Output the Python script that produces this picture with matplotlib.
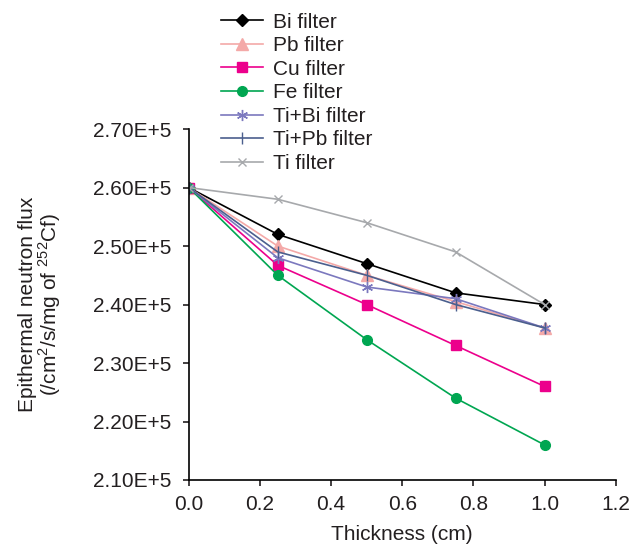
import matplotlib
matplotlib.use("Agg")
import matplotlib.pyplot as plt
from matplotlib.ticker import FuncFormatter

plt.rcParams['font.family'] = ['Liberation Sans', 'DejaVu Sans']
plt.rcParams['mathtext.fontset'] = 'custom'
plt.rcParams['mathtext.rm'] = 'Liberation Sans'

thickness = [0.0, 0.25, 0.5, 0.75, 1.0]
bi = [2.60e5, 2.52e5, 2.47e5, 2.42e5, 2.40e5]
pb = [2.60e5, 2.50e5, 2.45e5, 2.405e5, 2.36e5]
cu = [2.60e5, 2.467e5, 2.40e5, 2.33e5, 2.26e5]
fe = [2.60e5, 2.45e5, 2.34e5, 2.24e5, 2.16e5]
ti_bi = [2.60e5, 2.48e5, 2.43e5, 2.41e5, 2.36e5]
ti_pb = [2.60e5, 2.49e5, 2.45e5, 2.40e5, 2.36e5]
ti = [2.60e5, 2.58e5, 2.54e5, 2.49e5, 2.40e5]

fig = plt.figure(figsize=(6.4, 5.5), dpi=100)
ax = fig.add_axes([0.295, 0.1273, 0.667, 0.638])

series = [
    ("Bi filter", bi, "#000000", "D", 6.5),
    ("Pb filter", pb, "#F4A9A8", "^", 8),
    ("Cu filter", cu, "#EC008C", "s", 6.5),
    ("Fe filter", fe, "#00A651", "o", 7),
    ("Ti+Bi filter", ti_bi, "#7B78BE", (6, 2, 0), 8),
    ("Ti+Pb filter", ti_pb, "#4B5F8E", "|", 8),
    ("Ti filter", ti, "#A7A9AC", "x", 6),
]
handles = []
for name, vals, col, mk, ms in series:
    h, = ax.plot(thickness, vals, color=col, marker=mk, markersize=ms,
                 linewidth=1.2, label=name, markeredgewidth=1.0)
    handles.append(h)

ax.set_xlim(0, 1.2)
ax.set_ylim(2.10e5, 2.70e5)
ax.set_xticks([0.0, 0.2, 0.4, 0.6, 0.8, 1.0, 1.2])
ax.set_yticks([2.10e5, 2.20e5, 2.30e5, 2.40e5, 2.50e5, 2.60e5, 2.70e5])
ax.xaxis.set_major_formatter(FuncFormatter(lambda v, p: f"{v:.1f}"))
ax.yaxis.set_major_formatter(FuncFormatter(lambda v, p: f"{v/1e5:.2f}E+5"))
for s in ["top", "right"]:
    ax.spines[s].set_visible(False)
ax.spines["left"].set_linewidth(1.2)
ax.spines["bottom"].set_linewidth(1.2)
ax.tick_params(direction="out", length=4.5, width=1.2, labelsize=15, colors="#231F20")
ax.tick_params(axis="y", pad=8)
ax.tick_params(axis="x", pad=6)
ax.set_xlabel("Thickness (cm)", fontsize=15, labelpad=8, color="#231F20")
ax.set_ylabel("Epithermal neutron flux\n(/cm$^2$/s/mg of $^{252}$Cf)", fontsize=15,
              labelpad=22, color="#231F20", linespacing=0.95)

fig.legend(handles=handles, loc="upper left", bbox_to_anchor=(0.326, 1.0),
           frameon=False, fontsize=15, handlelength=2.0, labelspacing=0.22,
           handletextpad=0.5, borderaxespad=0.2, labelcolor="#231F20")

fig.savefig("out.png", dpi=100)
